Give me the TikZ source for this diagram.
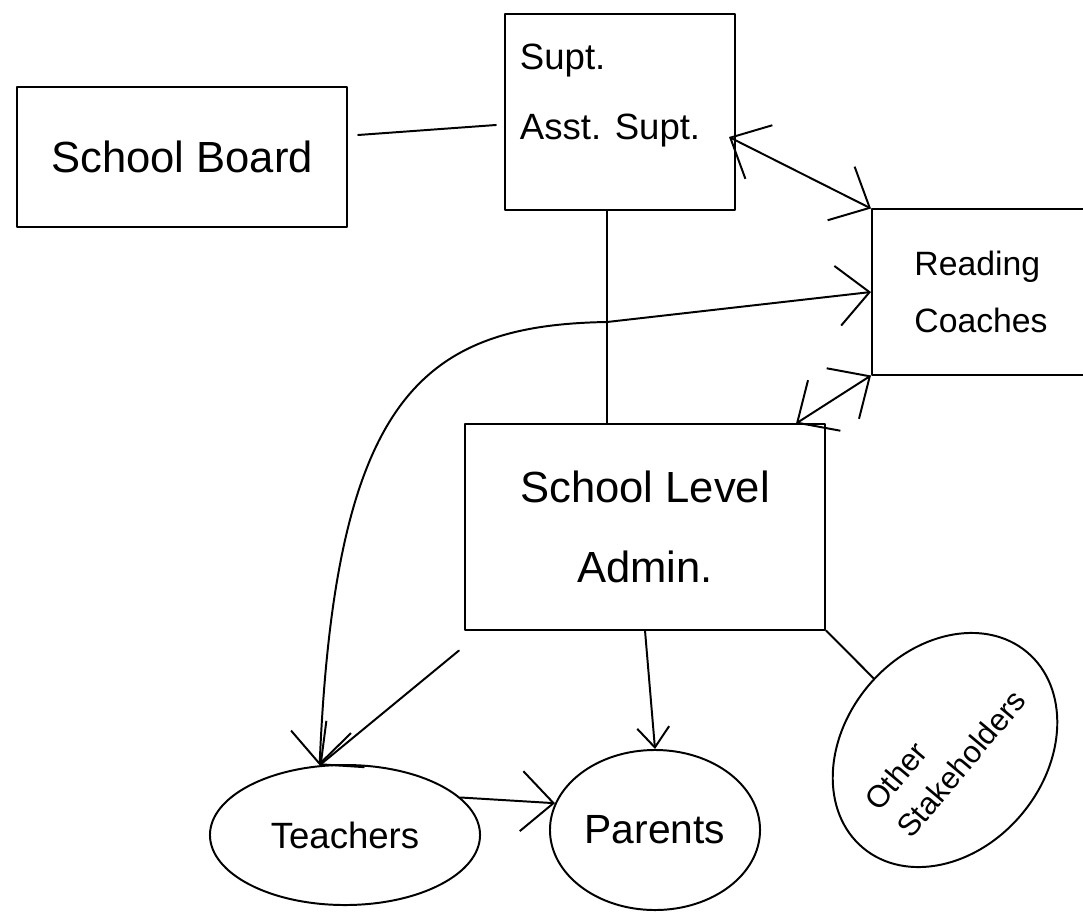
\documentclass[tikz,border=0pt]{standalone}
\usepackage{fontspec}
\setmainfont{Liberation Sans}
\usetikzlibrary{arrows.meta,shapes.geometric,calc}
\begin{document}
\begin{tikzpicture}[x=0.025cm,y=-0.025cm,
  line width=1.4pt, line cap=round, line join=round,
  box/.style={draw, rectangle, inner sep=0pt},
  blob/.style={draw, ellipse, inner sep=0pt},
  barb/.tip={Straight Barb[length=0.8cm,width=1.5cm]},
  smallbarb/.tip={Straight Barb[length=0.5cm,width=0.8cm]},
  arr/.style={-barb},
  arrsmall/.style={-smallbarb},
  both/.style={barb-barb}
]
\useasboundingbox (0,0) rectangle (1083,913);

% nodes
\node[box, minimum width=8.25cm, minimum height=3.5cm,
      font=\fontsize{31}{36}\selectfont] (sb) at (182,157) {School Board};
\node[box, minimum width=5.75cm, minimum height=4.875cm] (supt) at (620,112)
  {\parbox[c][4.6cm][t]{5cm}{\fontsize{26}{50}\selectfont\vspace*{0.6cm}Supt.\\Asst. Supt.}};
\node[box, minimum width=5.45cm, minimum height=4.125cm, align=left,
      font=\fontsize{24}{40}\selectfont] (coach) at (981,292) {Reading\\Coaches};
\node[box, minimum width=9cm, minimum height=5.125cm, align=center,
      font=\fontsize{31}{57}\selectfont] (admin) at (645,527) {School Level\\Admin.};
\node[blob, minimum width=6.75cm, minimum height=3.5cm,
      font=\fontsize{26}{30}\selectfont] (teach) at (345,835) {Teachers};
\node[blob, minimum width=5.25cm, minimum height=4cm,
      font=\fontsize{29}{34}\selectfont] (par) at (655,830) {Parents};
\node[blob, minimum width=6.2cm, minimum height=5cm, rotate=50, align=left,
      font=\fontsize{22}{30}\selectfont] (oth) at (945,750) {Other\\Stakeholders};

\coordinate (j) at (607,322);

% connectors
\draw ([shift={(10,-22)}]sb.east) -- ([shift={(-8,13)}]supt.west);
\draw (supt.south -| j) -- (admin.north -| j);
\draw[both] (coach.north west) -- ([shift={(-7,25)}]supt.east);
\draw[arr] (j) -- (coach.west);
\draw[arr] (j) .. controls (420,325) and (335,400) .. (teach.110);
\draw[both] (coach.south west) -- ([shift={(-30,0)}]admin.north east);
\draw[arr] ([shift={(-5,20)}]admin.south west) -- (teach.110);
\draw[arrsmall] (admin.south) -- (par.north);
\draw (admin.south east) -- (oth);
\draw[arr] (teach.18) -- (par.165);
\end{tikzpicture}
\end{document}
